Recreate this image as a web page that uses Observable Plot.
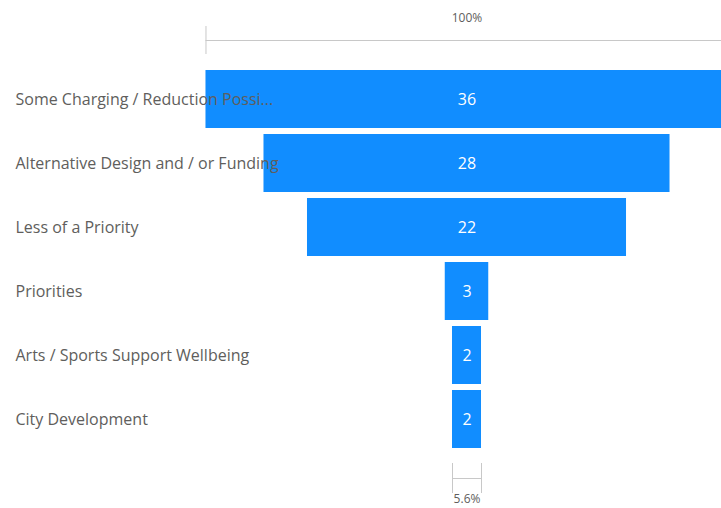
<!DOCTYPE html>
<html>
<head>
<meta charset="utf-8">
<script src="https://cdn.jsdelivr.net/npm/d3@7"></script>
<script src="https://cdn.jsdelivr.net/npm/@observablehq/plot@0.6"></script>
<style>
  html, body { margin: 0; padding: 0; background: #fff; overflow: hidden; }
  #chart svg { display: block; }
</style>
</head>
<body>
<div id="chart"></div>
<script>
const categories = [
  "Some Charging / Reduction Possi...",
  "Alternative Design and / or Funding",
  "Less of a Priority",
  "Priorities",
  "Arts / Sports Support Wellbeing",
  "City Development"
];
const values = [36, 28, 22, 3, 2, 2];

const data = categories.map((c, i) => ({cat: c, v: values[i]}));
const first = data[0];
const last = data[data.length - 1];
const fmtPct = d3.format(".1~%");
const font = "'Open Sans', sans-serif";

const chart = Plot.plot({
  width: 721,
  height: 508,
  marginLeft: 0,
  marginRight: 0,
  marginTop: 65,
  marginBottom: 56,
  style: {fontFamily: font, background: "#fff"},
  x: {domain: [-32.17, 17.55], axis: null},
  y: {domain: categories, axis: null, paddingInner: 0.1, paddingOuter: 0.05},
  marks: [
    // conversion rate (top)
    Plot.ruleY([first], {y: "cat", x1: d => -d.v / 2, x2: d => d.v / 2, dy: -59, stroke: "#c8c8c8", strokeWidth: 1}),
    Plot.tickX([first], {y: "cat", x: d => -d.v / 2, dy: -59, insetTop: 15, insetBottom: 15, stroke: "#c8c8c8", strokeWidth: 1}),
    Plot.text([first], {y: "cat", x: 0, text: d => fmtPct(d.v / first.v), dy: -81, fill: "#605E5C", fontSize: 12}),
    // conversion rate (bottom)
    Plot.ruleY([last], {y: "cat", x1: d => -d.v / 2, x2: d => d.v / 2, dy: 59, stroke: "#c8c8c8", strokeWidth: 1}),
    Plot.tickX([last, last], {y: "cat", x: (d, i) => (i === 0 ? -1 : 1) * d.v / 2, dy: 59, insetTop: 14, insetBottom: 14, stroke: "#c8c8c8", strokeWidth: 1}),
    Plot.text([last], {y: "cat", x: 0, text: d => fmtPct(d.v / first.v), dy: 80, fill: "#605E5C", fontSize: 12}),
    // funnel bars
    Plot.barX(data, {y: "cat", x1: d => -d.v / 2, x2: d => d.v / 2, fill: "#118DFF"}),
    Plot.text(data, {y: "cat", x: 0, text: d => String(d.v), fill: "#fff", fontSize: 16}),
    // category labels
    Plot.text(data, {y: "cat", text: "cat", frameAnchor: "left", dx: 15, textAnchor: "start", fill: "#605E5C", fontSize: 16})
  ]
});
document.getElementById("chart").append(chart);
</script>
</body>
</html>
